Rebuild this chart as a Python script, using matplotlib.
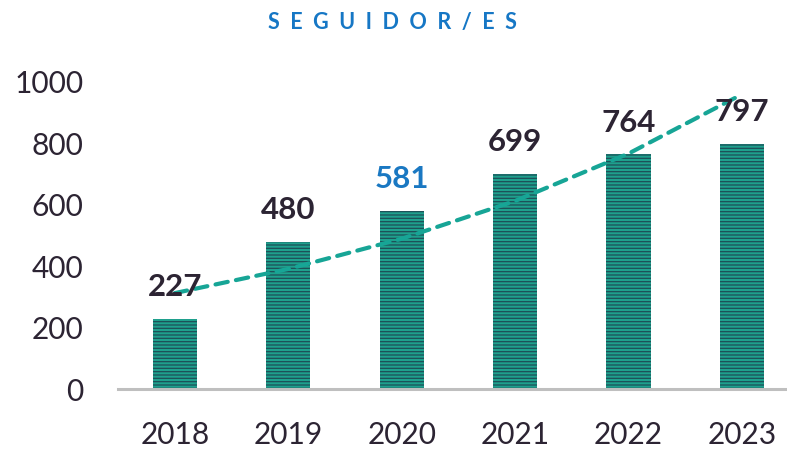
import numpy as np
import matplotlib
matplotlib.use('Agg')
from matplotlib import pyplot as plt

# Data
years = ['2018', '2019', '2020', '2021', '2022', '2023']
followers = [227, 480, 581, 699, 764, 797]
label_colors = ['#2c2433', '#2c2433', '#1a78c2', '#2c2433', '#2c2433', '#2c2433']
title = 'SEGUIDOR/ES'

plt.rcParams['font.family'] = ['Lato', 'DejaVu Sans']
plt.rcParams['hatch.linewidth'] = 0.9

fig = plt.figure(figsize=(7.87, 4.49), dpi=100)
ax = fig.add_axes([0.15, 0.1336, 0.85, 0.6838])

x = np.arange(len(years))
ax.bar(x, followers, width=0.39, color='#1fa08d', edgecolor='#1d4f57',
       linewidth=0, hatch='-----')

# exponential trendline (as Excel does it), fitted from the data
coef = np.polyfit(x + 1, np.log(followers), 1)
trend = np.exp(np.polyval(coef, x + 1))
ax.plot(x, trend, color='#17a596', lw=3, ls=(0, (3.0, 2.0)),
        solid_capstyle='round', dash_capstyle='round')

for xi, v, c in zip(x, followers, label_colors):
    ax.annotate(str(v), (xi, v), xytext=(0, 16.5), textcoords='offset points',
                ha='center', va='baseline', fontsize=22.5, fontweight='bold', color=c)

ax.set_xlim(-0.5, 5.397)
ax.set_ylim(0, 1000)
ax.set_yticks(range(0, 1001, 200))
ax.set_xticks(x)
ax.set_xticklabels(years)
ax.tick_params(axis='both', length=0, labelsize=21.5, labelcolor='#2c2433')
ax.tick_params(axis='y', pad=25)
ax.tick_params(axis='x', pad=23)
for s in ['top', 'right', 'left']:
    ax.spines[s].set_visible(False)
ax.spines['bottom'].set_color('#bfbfbf')
ax.spines['bottom'].set_linewidth(2.2)

fig.text(0.4985, 0.951, '  '.join(title), ha='center', va='center',
         fontsize=15.5, fontweight='bold', color='#1677c5')

fig.savefig('out.png', dpi=100)
